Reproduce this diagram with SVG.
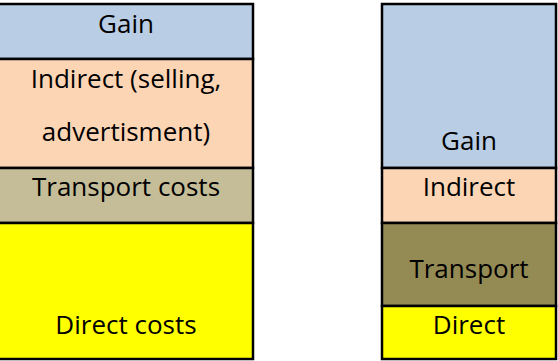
<svg xmlns="http://www.w3.org/2000/svg" width="558" height="361" viewBox="0 0 558 361">
<style>
.b{stroke:#000;stroke-width:2.5}
.gain{fill:#B9CDE5}
.ind{fill:#FCD5B5}
.tr1{fill:#C4BD97}
.tr2{fill:#948A54}
.dir{fill:#FFFF00}
text{font-family:"Open Sans","Noto Sans",sans-serif;font-size:26px;fill:#000;text-anchor:middle}
</style>
<rect width="558" height="361" fill="#fff"/>
<g id="left-gain"><rect class="b gain" x="-2" y="4" width="255" height="55"/><text x="126" y="33">Gain</text></g>
<g id="left-indirect"><rect class="b ind" x="-2" y="59" width="255" height="109"/><text x="126" y="88">Indirect (selling,</text><text x="126" y="141">advertisment)</text></g>
<g id="left-transport"><rect class="b tr1" x="-2" y="168" width="255" height="55"/><text x="126" y="196">Transport costs</text></g>
<g id="left-direct"><rect class="b dir" x="-2" y="223" width="255" height="136"/><text x="126" y="334">Direct costs</text></g>
<g id="right-gain"><rect class="b gain" x="382" y="4" width="174" height="164"/><text x="469" y="150">Gain</text></g>
<g id="right-indirect"><rect class="b ind" x="382" y="168" width="174" height="55"/><text x="469" y="196">Indirect</text></g>
<g id="right-transport"><rect class="b tr2" x="382" y="223" width="174" height="83"/><text x="469" y="278">Transport</text></g>
<g id="right-direct"><rect class="b dir" x="382" y="306" width="174" height="53"/><text x="469" y="334">Direct</text></g>
<g id="connectors"></g>
</svg>
